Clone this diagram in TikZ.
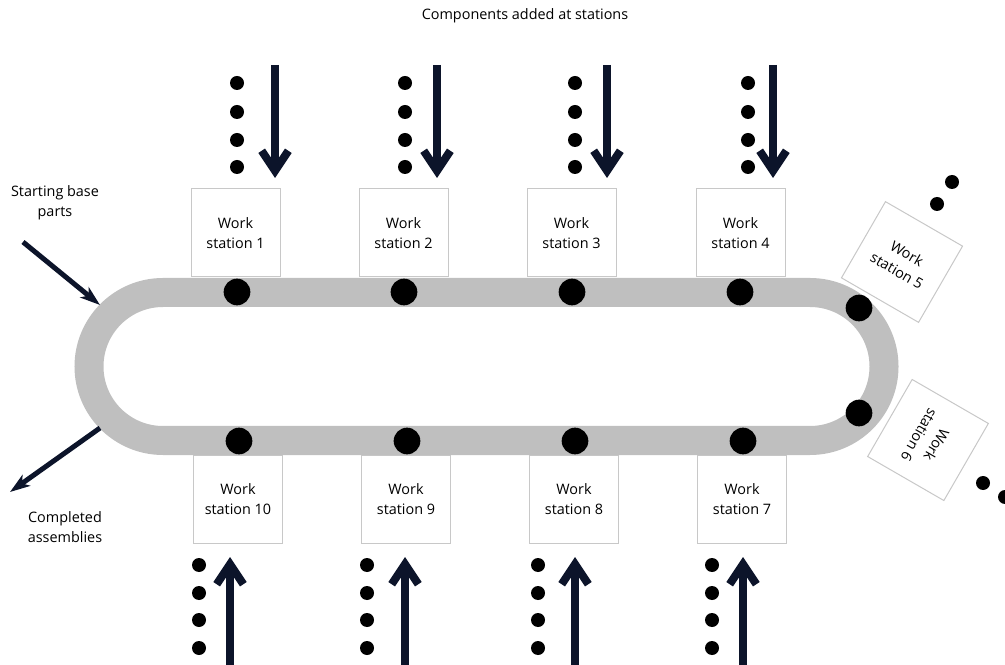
\documentclass[tikz,border=0pt]{standalone}
\usepackage{fontspec}
\setmainfont{Open Sans}
\usetikzlibrary{arrows.meta}
\definecolor{navy}{RGB}{12,20,42}
\definecolor{trackgray}{RGB}{191,191,191}
\definecolor{boxline}{RGB}{200,200,200}
\begin{document}
\begin{tikzpicture}[x=0.75pt,y=0.75pt,
  wsbox/.style={draw=boxline,line width=0.75pt,fill=white,minimum width=66.75pt,minimum height=66pt,align=center,inner sep=0pt,font=\fontsize{10.8}{15}\selectfont},
  trackdot/.style={circle,fill=black,inner sep=0pt,minimum size=20pt},
  smalldot/.style={circle,fill=black,inner sep=0pt,minimum size=10.5pt},
  bigarrow/.style={draw=navy,line width=6pt,-{Straight Barb[length=15pt,width=20pt,line width=6pt]}},
  thinarrow/.style={draw=navy,line width=3.75pt,-{Stealth[length=15pt,width=10pt,inset=4pt]}},
  lbl/.style={align=center,inner sep=0pt,font=\fontsize{10.8}{15}\selectfont}]
\useasboundingbox (0,0) rectangle (1005,664);
% station boxes
\node[wsbox] (ws1) at (235.5,431) {Work\\station 1};
\node[wsbox] (ws2) at (403.5,431) {Work\\station 2};
\node[wsbox] (ws3) at (571.5,431) {Work\\station 3};
\node[wsbox] (ws4) at (740.5,431) {Work\\station 4};
\node[wsbox,rotate=-30] (ws5) at (902,402) {Work\\station 5};
\node[wsbox,rotate=-120] (ws6) at (928,224) {Work\\station 6};
\node[wsbox] (ws7) at (742,164.5) {Work\\station 7};
\node[wsbox] (ws8) at (574,164.5) {Work\\station 8};
\node[wsbox] (ws9) at (406,164.5) {Work\\station 9};
\node[wsbox] (ws10) at (238,164.5) {Work\\station 10};
% track
\draw[trackgray,line width=21.75pt] (163,371.5) -- (810,371.5)
  arc[start angle=90,end angle=-90,radius=55.5pt] -- (163,223.5)
  arc[start angle=270,end angle=90,radius=55.5pt] -- cycle;
% track dots
\node[trackdot] (d1) at (237,372) {};
\node[trackdot] (d2) at (404,372) {};
\node[trackdot] (d3) at (572,372) {};
\node[trackdot] (d4) at (740,372) {};
\node[trackdot] (d5) at (859,356) {};
\node[trackdot] (d6) at (859,251) {};
\node[trackdot] (d7) at (743,223) {};
\node[trackdot] (d8) at (575,223) {};
\node[trackdot] (d9) at (407,223) {};
\node[trackdot] (d10) at (239,223) {};
% top dot columns and arrows
\foreach \dx/\ax/\n in {237/275/1,405/437/2,575/607/3,748/773/4}{
  \node[smalldot] (t\n a) at (\dx,581) {};
  \node[smalldot] (t\n b) at (\dx,552) {};
  \node[smalldot] (t\n c) at (\dx,524) {};
  \node[smalldot] (t\n d) at (\dx,497) {};
  \coordinate (ts\n) at (\ax,599);
  \coordinate (te\n) at (\ax,486);
  \draw[bigarrow] (ts\n) -- (te\n);
}
% bottom dot columns and arrows
\foreach \dx/\ax/\n in {199/230/10,367/405/9,538/575/8,712/743/7}{
  \node[smalldot] (b\n a) at (\dx,99) {};
  \node[smalldot] (b\n b) at (\dx,71) {};
  \node[smalldot] (b\n c) at (\dx,44) {};
  \node[smalldot] (b\n d) at (\dx,16) {};
  \coordinate (bs\n) at (\ax,-2);
  \coordinate (be\n) at (\ax,107);
  \draw[bigarrow] (bs\n) -- (be\n);
}
% scattered dots near stations 5 and 6
\node[smalldot] (r1) at (952,482) {};
\node[smalldot] (r2) at (937,460) {};
\node[smalldot] (r3) at (983,181) {};
\node[smalldot] (r4) at (1005,167) {};
% in/out arrows
\coordinate (ins) at (23,422);
\coordinate (ine) at (100,359);
\draw[thinarrow] (ins) -- (ine);
\coordinate (outs) at (100,236);
\coordinate (oute) at (10,172);
\draw[thinarrow] (outs) -- (oute);
% labels
\node[lbl] (title) at (525,648) {Components added at stations};
\node[lbl] (start) at (55,461) {Starting base\\parts};
\node[lbl] (done) at (65,137) {Completed\\assemblies};
\end{tikzpicture}
\end{document}
